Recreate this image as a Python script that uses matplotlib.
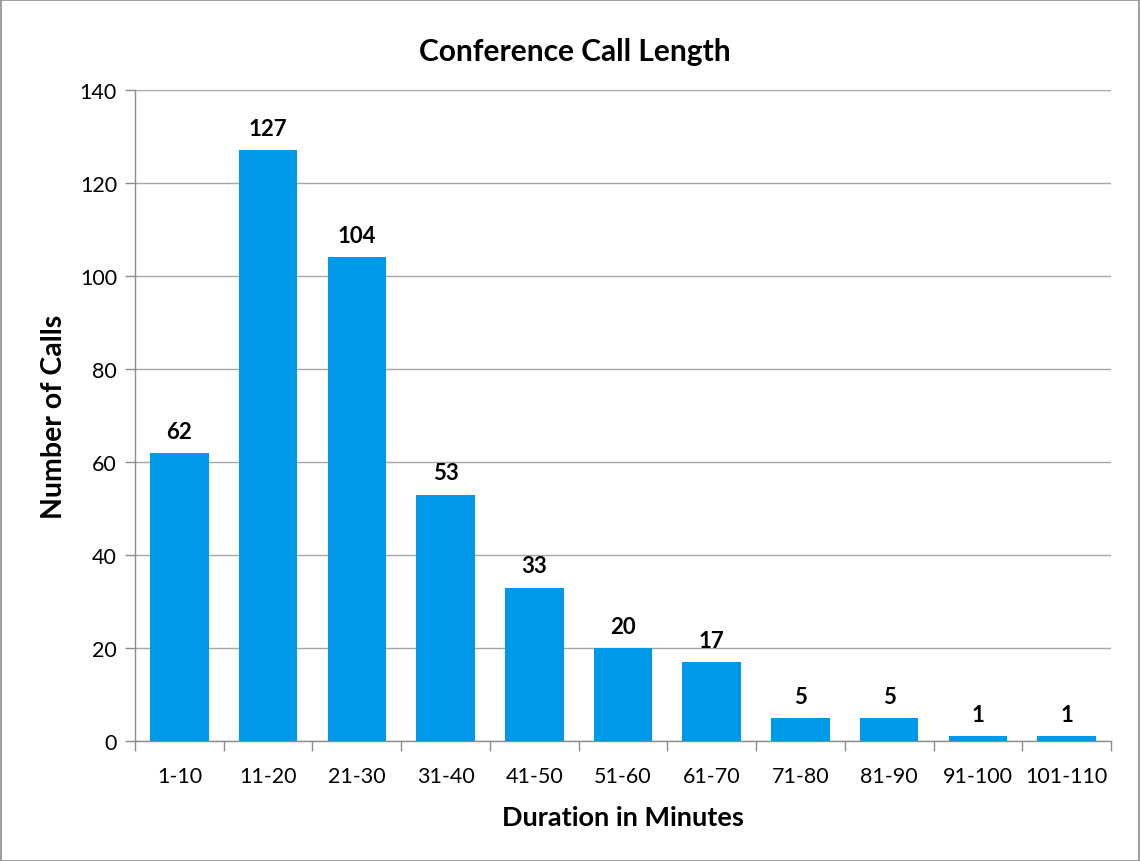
import matplotlib
matplotlib.use("Agg")
import matplotlib.pyplot as plt
from matplotlib.patches import Rectangle
import numpy as np

categories = ["1-10", "11-20", "21-30", "31-40", "41-50", "51-60", "61-70",
              "71-80", "81-90", "91-100", "101-110"]
counts = [62, 127, 104, 53, 33, 20, 17, 5, 5, 1, 1]
yticks = [0, 20, 40, 60, 80, 100, 120, 140]

plt.rcParams['font.family'] = ['Lato', 'DejaVu Sans']

fig = plt.figure(figsize=(11.4, 8.62), dpi=100)
ax = fig.add_axes([135/1140, 1 - 742/862, (1111-135)/1140, (742-91)/862])

x = np.arange(len(categories))
bar_color = "#0099E9"
ax.bar(x, counts, width=0.66, color=bar_color, zorder=3)

ax.set_xlim(-0.5, len(categories) - 0.5)
ax.set_ylim(0, 140)
ax.set_yticks(yticks)
ax.yaxis.grid(True, color="#A6A6A6", linewidth=1.0, zorder=0)
ax.set_xticks(x)
ax.set_xticklabels(categories, fontsize=15.5)
ax.tick_params(axis='x', length=0, pad=18)
ax.tick_params(axis='y', labelsize=15.5, length=7, color="#8C8C8C", width=1, pad=6)

# category boundary ticks on x axis
ax.set_xticks(np.arange(-0.5, len(categories) + 0.5, 1), minor=True)
ax.tick_params(axis='x', which='minor', length=7, color="#8C8C8C", width=1)

for s in ["top", "right"]:
    ax.spines[s].set_visible(False)
for s in ["left", "bottom"]:
    ax.spines[s].set_color("#8C8C8C")
    ax.spines[s].set_linewidth(1.0)

for xi, v in zip(x, counts):
    ax.annotate(str(v), (xi, v), xytext=(0, 8), textcoords="offset points",
                ha="center", va="bottom", fontsize=16, fontweight="bold")

fig.text(575/1140, 1 - 52/862, "Conference Call Length", fontsize=21.5,
         fontweight="bold", ha="center", va="center")
ax.set_xlabel("Duration in Minutes", fontsize=19.5, fontweight="bold", labelpad=14)
ax.set_ylabel("Number of Calls", fontsize=20.5, fontweight="bold", labelpad=9)

# outer border
fig.patches.append(Rectangle((0.5/1140, 0.5/862), 1 - 1.5/1140, 1 - 1.5/862,
                             transform=fig.transFigure, fill=False,
                             edgecolor="#8C8C8C", linewidth=1.2))

fig.savefig("out.png", dpi=100)
